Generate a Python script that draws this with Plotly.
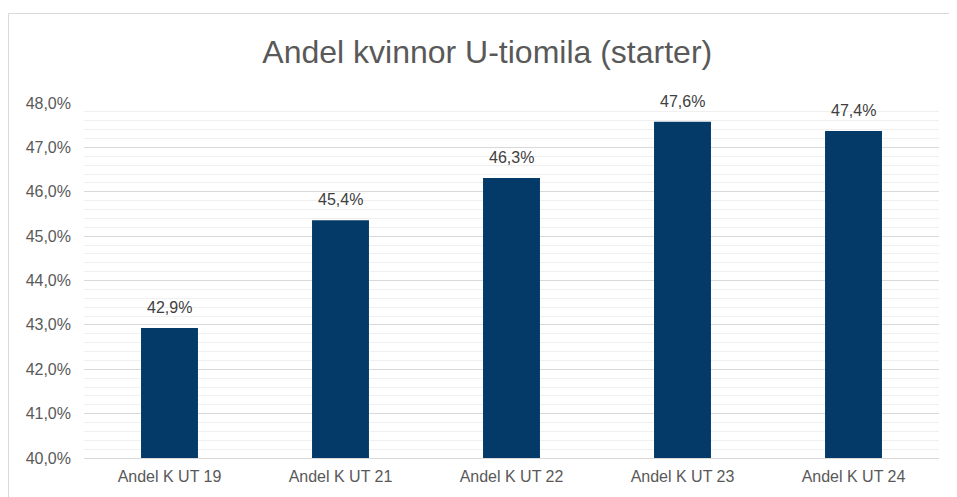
import plotly.graph_objects as go

categories = ["Andel K UT 19", "Andel K UT 21", "Andel K UT 22", "Andel K UT 23", "Andel K UT 24"]
values = [42.93, 45.36, 46.31, 47.58, 47.37]
tick_vals = [40, 41, 42, 43, 44, 45, 46, 47, 48]
tick_text = ["40,0%", "41,0%", "42,0%", "43,0%", "44,0%", "45,0%", "46,0%", "47,0%", "48,0%"]

BAR = "#033A67"
FONT = "Liberation Sans, Arial, sans-serif"

W, H = 949, 489
L, R, T, B = 76, 18, 95, 37
PW, PH = W - L - R, H - T - B

fig = go.Figure()
fig.add_trace(go.Bar(
    x=categories, y=values, marker=dict(color=BAR, line=dict(width=0)),
    hoverinfo="skip",
))

for c, v in zip(categories, values):
    fig.add_annotation(x=c, y=v, text=f"{v:.1f}".replace(".", ",") + "%",
                       showarrow=False, yanchor="bottom", yshift=10,
                       font=dict(family=FONT, size=16, color="#404040"))

fig.update_layout(
    width=W, height=H,
    margin=dict(l=L, r=R, t=T, b=B),
    paper_bgcolor="white", plot_bgcolor="white",
    separators=", ",
    bargap=0.667,
    showlegend=False,
    title=dict(text="Andel kvinnor U-tiomila (starter)", x=0.505, xanchor="center",
               y=0.910, yanchor="middle",
               font=dict(family=FONT, size=32, color="#595959")),
    font=dict(family=FONT, size=16, color="#595959"),
    xaxis=dict(showgrid=False, showline=True, linecolor="#D9D9D9", linewidth=1,
               ticks="", tickfont=dict(size=16, color="#595959"), ticklabelstandoff=4),
    yaxis=dict(range=[40, 48], tickvals=tick_vals, ticktext=tick_text,
               showgrid=True, gridcolor="#D9D9D9", gridwidth=1,
               minor=dict(dtick=0.2, showgrid=True, gridcolor="#F0F0F0", gridwidth=1),
               zeroline=False, showline=False, ticks="",
               tickfont=dict(size=16, color="#595959"), ticklabelstandoff=12),
    shapes=[dict(type="rect", xref="paper", yref="paper",
                 x0=(0.5 - L) / PW, x1=(W + 10 - L) / PW,
                 y0=-0.3, y1=(PH + T - 5) / PH,
                 line=dict(color="#D9D9D9", width=1), fillcolor="rgba(0,0,0,0)",
                 layer="below")],
)

fig.write_html("out.html")
